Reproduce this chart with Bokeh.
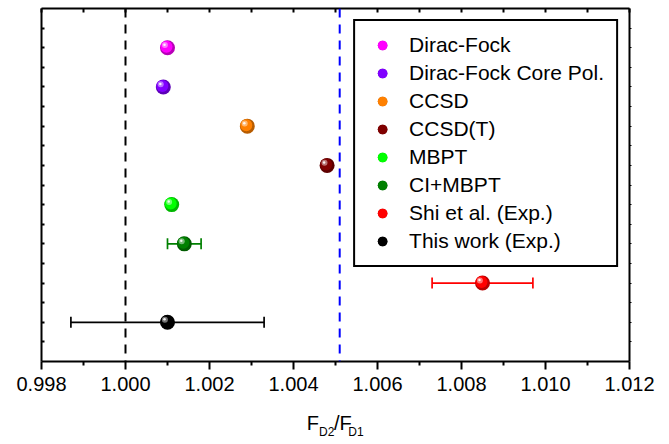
from bokeh.plotting import figure
from bokeh.layouts import column
from bokeh.models import (ColumnDataSource, Span, Whisker, TeeHead, Legend, LegendItem,
                          LinearAxis, FixedTicker, NumeralTickFormatter, Range1d)
from bokeh.core.properties import value
from bokeh.transform import dodge
from bokeh.embed import file_html
from bokeh.resources import INLINE

# ---------------- data ----------------
methods = ["Dirac-Fock", "Dirac-Fock Core Pol.", "CCSD", "CCSD(T)", "MBPT",
           "CI+MBPT", "Shi et al. (Exp.)", "This work (Exp.)"]
ratio = [1.0010, 1.0009, 1.0029, 1.0048, 1.0011, 1.0014, 1.0085, 1.0010]
ratio_err = [0.0, 0.0, 0.0, 0.0, 0.0, 0.0004, 0.0012, 0.0023]
row = [8, 7, 6, 5, 4, 3, 2, 1]
colors = ["#FF00FF", "#8000FF", "#FF8000", "#800000", "#00FF00", "#008000", "#FF0000", "#000000"]
x_ticks = [0.998, 1.000, 1.002, 1.004, 1.006, 1.008, 1.010, 1.012]
x_minor = [0.999, 1.001, 1.003, 1.005, 1.007, 1.009, 1.011]
y_ticks = [0.5, 1.0, 1.5, 2.0, 2.5, 3.0, 3.5, 4.0, 4.5, 5.0, 5.5, 6.0, 6.5, 7.0, 7.5, 8.0, 8.5]
ref_unity = 1.000
ref_blue = 1.0051

FONT = "Liberation Sans"


def darker(h, f=0.72):
    h = h.lstrip("#")
    r, g, b = (int(h[i:i + 2], 16) for i in (0, 2, 4))
    return "#%02x%02x%02x" % (int(r * f), int(g * f), int(b * f))


shades = [darker(c) for c in colors]

W, H_MAIN, H_LAB = 669, 400, 44

p = figure(width=W, height=H_MAIN, x_range=Range1d(0.998, 1.012), y_range=Range1d(0, 9),
           output_backend="svg", toolbar_location=None,
           min_border_left=41, min_border_right=40, min_border_top=8, min_border_bottom=39)
p.grid.visible = False
p.outline_line_color = None

# bottom axis
xa = p.xaxis[0]
xa.ticker = FixedTicker(ticks=x_ticks, minor_ticks=x_minor)
xa.formatter = NumeralTickFormatter(format="0.000")
xa.major_label_text_font = FONT
xa.major_label_text_font_size = "20px"
xa.major_label_text_color = "black"
xa.major_label_standoff = 7
xa.axis_line_width = 2
xa.major_tick_line_width = 2
xa.minor_tick_line_width = 2
xa.major_tick_out = 8
xa.major_tick_in = 0
xa.minor_tick_out = 4
xa.minor_tick_in = 0

# left axis: only (unlabelled) minor-style ticks
ya = p.yaxis[0]
ya.ticker = FixedTicker(ticks=[], minor_ticks=y_ticks)
ya.axis_line_width = 2
ya.minor_tick_line_width = 2
ya.minor_tick_in = 3
ya.minor_tick_out = 0
ya.major_label_standoff = 0

# top axis
top = LinearAxis(ticker=FixedTicker(ticks=[], minor_ticks=x_ticks + x_minor),
                 major_label_standoff=0, axis_line_width=2, minor_tick_line_width=2,
                 minor_tick_in=4, minor_tick_out=0)
p.add_layout(top, "above")

# right axis
right = LinearAxis(ticker=FixedTicker(ticks=[], minor_ticks=y_ticks),
                   major_label_standoff=0, axis_line_width=2, minor_tick_line_width=1,
                   minor_tick_in=0, minor_tick_out=2)
p.add_layout(right, "right")

# reference lines
p.add_layout(Span(location=ref_unity, dimension="height", line_color="black",
                  line_dash="9 7", line_width=2))
p.add_layout(Span(location=ref_blue, dimension="height", line_color="#0000FF",
                  line_dash="9 7", line_width=2))

# error bars
for i in range(len(methods)):
    if ratio_err[i] > 0:
        src_e = ColumnDataSource(dict(base=[row[i]], lower=[ratio[i] - ratio_err[i]],
                                      upper=[ratio[i] + ratio_err[i]]))
        p.add_layout(Whisker(base="base", lower="lower", upper="upper", dimension="width",
                             source=src_e, line_color=colors[i], line_width=1.7,
                             upper_head=TeeHead(size=11, line_color=colors[i], line_width=1.7),
                             lower_head=TeeHead(size=11, line_color=colors[i], line_width=1.7)))

# spheres
src = ColumnDataSource(dict(x=ratio, y=row, color=colors, shade=shades, name=methods))
px = 0.014 / 588.0   # data per pixel (x)
py = 9.0 / 353.0     # data per pixel (y)

r_base = p.scatter("x", "y", source=src, size=15, fill_color="shade", line_color=None)
r_mid = p.scatter(dodge("x", -1.0 * px), dodge("y", 1.0 * py), source=src, size=12,
                  fill_color="color", line_color=None)
r_hl = p.scatter(dodge("x", -2.6 * px), dodge("y", 2.6 * py), source=src, size=6,
                 fill_color="white", fill_alpha=0.45, line_color=None)
r_dot = p.scatter(dodge("x", -3.0 * px), dodge("y", 3.0 * py), source=src, size=2.5,
                  fill_color="white", fill_alpha=0.9, line_color=None)

items = [LegendItem(label=methods[i], renderers=[r_base, r_mid], index=i) for i in range(len(methods))]
legend = Legend(items=items, location="top_right", margin=11, padding=12, spacing=4,
                glyph_width=30, glyph_height=24, label_standoff=12,
                label_text_font=FONT, label_text_font_size="21px", label_text_color="black",
                border_line_color="black", border_line_width=2, border_line_alpha=1.0,
                background_fill_color="white", background_fill_alpha=1)
p.add_layout(legend)

# axis title  F_D2 / F_D1  drawn in a thin strip below the plot
q = figure(width=W, height=H_LAB, x_range=Range1d(0, W), y_range=Range1d(H_LAB, 0),
           output_backend="svg", toolbar_location=None,
           x_axis_location=None, y_axis_location=None,
           min_border_left=0, min_border_right=0, min_border_top=0, min_border_bottom=0)
q.grid.visible = False
q.outline_line_color = None
q.text(x=[301.7, 332.7], y=[22.3, 22.3], text=["F", "/F"], text_font=value(FONT),
       text_font_size="20px", text_color="black", text_baseline="alphabetic", text_align="left")
q.text(x=[315.7, 349.0], y=[31.0, 31.0], text=["D2", "D1"], text_font=value(FONT),
       text_font_size="12px", text_color="black", text_baseline="alphabetic", text_align="left")

layout = column(p, q, spacing=0)
open("out.html", "w").write(file_html(layout, INLINE))
